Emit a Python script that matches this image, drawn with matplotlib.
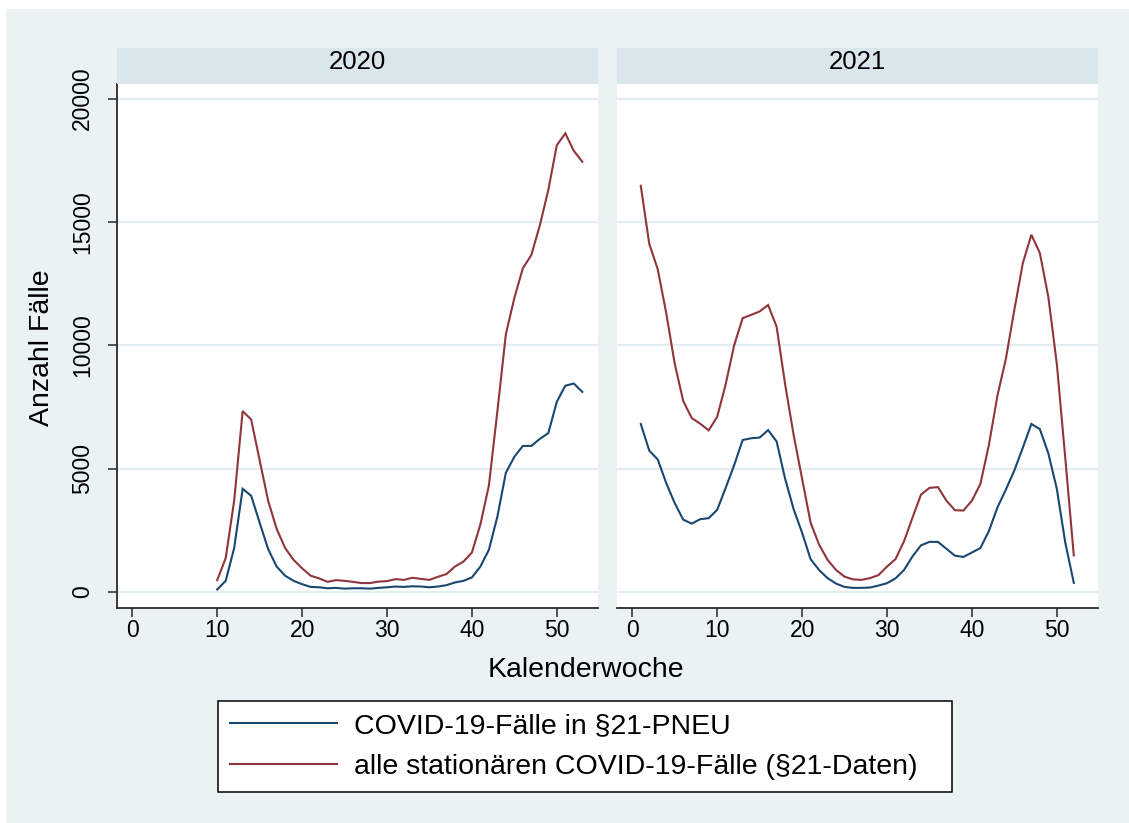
import matplotlib
matplotlib.use("Agg")
import matplotlib.pyplot as plt
from matplotlib.patches import Rectangle
from matplotlib.lines import Line2D

plt.rcParams['font.family'] = ['Liberation Sans', 'DejaVu Sans']

# ---------------- data ----------------
years = ["2020", "2021"]

weeks_2020 = list(range(10, 54))
pneu_2020 = [100, 450, 1780, 4180, 3900, 2810, 1740, 1030, 660, 450,
             315, 205, 190, 150, 165, 135, 150, 150, 135, 165,
             190, 220, 205, 230, 220, 190, 220, 275, 385, 450,
             590, 1030, 1710, 3055, 4835, 5480, 5920, 5920, 6205, 6440,
             7710, 8360, 8450, 8110]
alle_2020 = [480, 1370, 3700, 7330, 6990, 5340, 3700, 2560, 1780, 1300,
             960, 660, 550, 410, 480, 450, 410, 360, 360, 420,
             440, 520, 490, 575, 530, 490, 615, 725, 1030, 1230,
             1600, 2740, 4315, 7330, 10450, 11920, 13120, 13660, 14860, 16300,
             18110, 18590, 17880, 17440]

weeks_2021 = list(range(1, 53))
pneu_2021 = [6810, 5730, 5370, 4410, 3600, 2930, 2770, 2950, 2990, 3330,
             4220, 5140, 6160, 6230, 6260, 6560, 6100, 4590, 3360, 2400,
             1330, 890, 560, 340, 205, 165, 165, 180, 260, 355,
             550, 890, 1440, 1890, 2030, 2030, 1750, 1470, 1420, 1600,
             1780, 2470, 3420, 4150, 4930, 5850, 6810, 6600, 5620, 4180,
             1990, 370]
alle_2021 = [16466, 14110, 13080, 11300, 9250, 7740, 7050, 6820, 6550, 7100,
             8420, 10000, 11100, 11230, 11370, 11630, 10750, 8420, 6370, 4590,
             2810, 1920, 1300, 890, 620, 510, 490, 560, 685, 1030,
             1330, 2050, 3010, 3945, 4220, 4250, 3700, 3315, 3300, 3700,
             4380, 5960, 7945, 9450, 11440, 13330, 14480, 13740, 11960, 9250,
             5410, 1480]

series_labels = ["COVID-19-Fälle in §21-PNEU",
                 "alle stationären COVID-19-Fälle (§21-Daten)"]
x_ticks = [0, 10, 20, 30, 40, 50]
y_ticks = [0, 5000, 10000, 15000, 20000]

x_label = "Kalenderwoche"
y_label = "Anzahl Fälle"

# ---------------- style ----------------
BG = "#EAF2F3"
STRIP = "#D9E6EB"
GRID = "#E4EDF0"
BLUE = "#1A476F"
RED = "#90353B"
AXC = "#2a2a2a"

W, H = 1129, 823
fig = plt.figure(figsize=(W / 100, H / 100), dpi=100)
fig.patch.set_facecolor("white")
fig.patches.append(Rectangle((6 / W, 0), 1 - 6 / W, (H - 9) / H,
                             transform=fig.transFigure, facecolor=BG,
                             edgecolor="none", zorder=-10))

def fx(px):
    return px / W

def fy(py):
    return 1 - py / H

panels = [
    (117, 598, weeks_2020, pneu_2020, alle_2020),
    (617, 1098, weeks_2021, pneu_2021, alle_2021),
]
top_px, bot_px, strip_top = 84, 608, 48

axes = []
for i, (l, r, wk, pn, al) in enumerate(panels):
    ax = fig.add_axes([fx(l), fy(bot_px), fx(r - l), (bot_px - top_px) / H])
    ax.set_facecolor("white")
    ax.plot(wk, pn, color=BLUE, lw=1.5, solid_joinstyle="miter", zorder=3)
    ax.plot(wk, al, color=RED, lw=1.5, solid_joinstyle="miter", zorder=3)
    ax.set_xlim(-1.8, 54.85)
    ax.set_ylim(-650, 20590)
    ax.set_xticks(x_ticks)
    ax.set_yticks(y_ticks)
    ax.yaxis.grid(True, color=GRID, lw=1.6, zorder=0)
    ax.set_axisbelow(True)
    for s in ["top", "right"]:
        ax.spines[s].set_visible(False)
    ax.spines["bottom"].set_color(AXC)
    ax.spines["bottom"].set_linewidth(1.3)
    ax.tick_params(axis="x", direction="out", length=6.5, width=1.1,
                   color=AXC, labelsize=16.5, pad=1.5)
    if i == 0:
        ax.spines["left"].set_color(AXC)
        ax.spines["left"].set_linewidth(1.3)
        ax.tick_params(axis="y", direction="out", length=6.5, width=1.1,
                       color=AXC, labelsize=16.5, pad=9.8, labelrotation=90)
        ax.set_yticklabels([str(v) for v in y_ticks], va="center")
    else:
        ax.spines["left"].set_visible(False)
        ax.tick_params(axis="y", left=False, labelleft=False)
    # strip header
    sax = fig.add_axes([fx(l), fy(top_px), fx(r - l), (top_px - strip_top) / H])
    sax.set_facecolor(STRIP)
    sax.set_xticks([])
    sax.set_yticks([])
    for s in sax.spines.values():
        s.set_visible(False)
    sax.text(0.5, (top_px - 69.3) / (top_px - strip_top), years[i],
             ha="center", va="baseline", fontsize=18.5, color="black",
             transform=sax.transAxes)
    axes.append(ax)

fig.text(fx(42), fy(348), y_label, rotation=90, ha="center", va="center",
         fontsize=20.5)
fig.text(fx(586), fy(670), x_label, ha="center", va="center", fontsize=20.5)

handles = [Line2D([], [], color=BLUE, lw=1.5), Line2D([], [], color=RED, lw=1.5)]
leg = fig.legend(handles, series_labels, loc="center",
                 bbox_to_anchor=(fx(218), fy(792), fx(952 - 218), 91 / H),
                 mode="expand", fontsize=20.5, frameon=True, fancybox=False,
                 framealpha=1, edgecolor="black", borderpad=0.42,
                 labelspacing=0.5, handlelength=3.75, handletextpad=0.6,
                 borderaxespad=0)
leg.get_frame().set_linewidth(1.1)

fig.savefig("out.png", dpi=100, facecolor=fig.get_facecolor())
